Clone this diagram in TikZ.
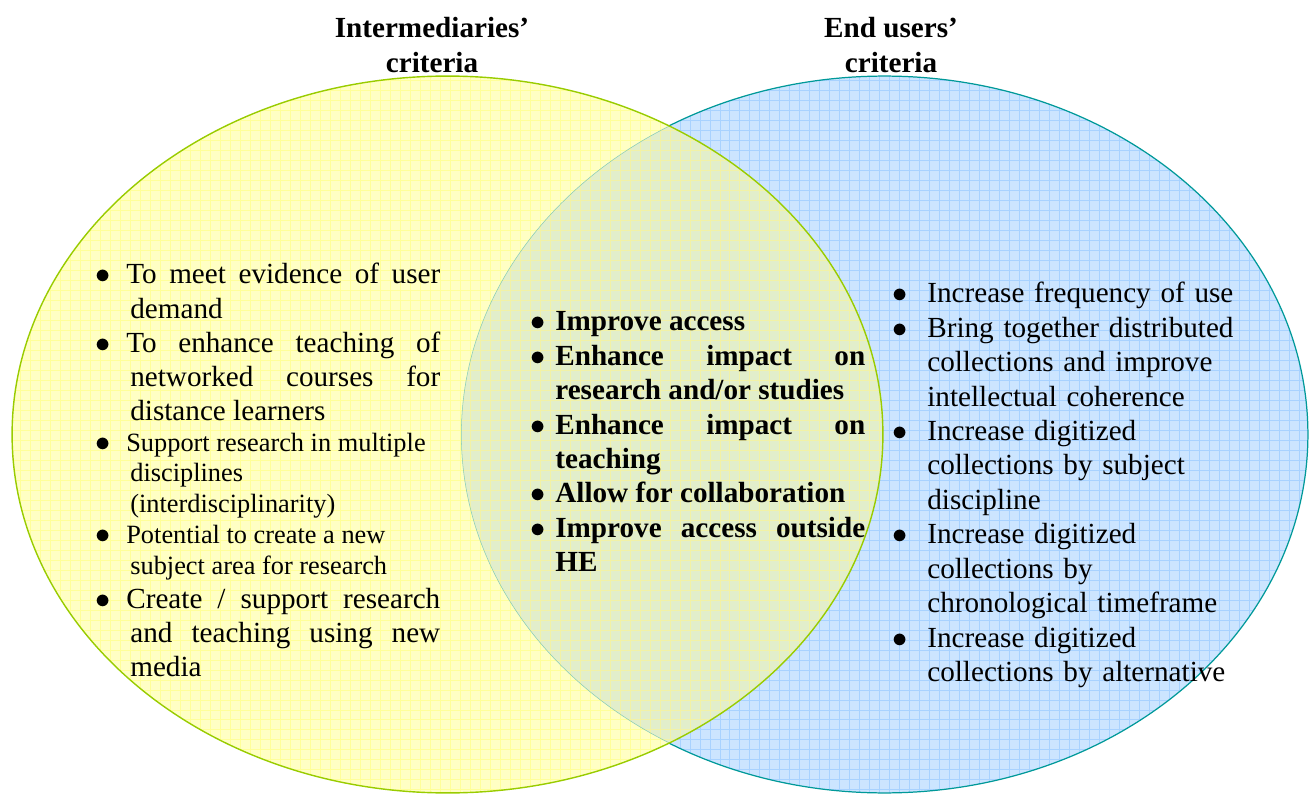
\documentclass[tikz,border=0pt]{standalone}
\usepackage{fontspec}
\setmainfont{Liberation Serif}
\usepackage{tikz}

\definecolor{leftfill}{HTML}{FFFFC4}
\definecolor{leftgrid}{HTML}{FFFF99}
\definecolor{leftline}{HTML}{99CC00}
\definecolor{rightfill}{HTML}{CCE5FF}
\definecolor{rightgrid}{HTML}{A8D2FF}
\definecolor{rightline}{HTML}{009999}
\definecolor{bothfill}{HTML}{E2EECB}
\definecolor{bothgrid}{HTML}{F2F2A6}

% bullet list: left margin, first line shift, gap between items
\newenvironment{critlist}[3]{%
  \tolerance=9999\hyphenpenalty=10000%
  \begin{list}{$\bullet$}{%
    \setlength{\leftmargin}{#1}%
    \setlength{\itemindent}{#2}%
    \setlength{\labelsep}{0pt}%
    \setlength{\labelwidth}{\dimexpr#1+#2\relax}%
    \setlength{\topsep}{0pt}\setlength{\partopsep}{0pt}%
    \setlength{\parsep}{0pt}\setlength{\itemsep}{#3}%
    \renewcommand{\makelabel}[1]{##1\hfil}}}%
  {\end{list}}

\begin{document}
\begin{tikzpicture}[x=0.02cm,y=-0.02cm,
  crit/.style={anchor=north west,inner sep=0pt,font=\fontsize{16.6}{19.4}\selectfont},
  head/.style={anchor=north,inner sep=0pt,align=center,font=\fontsize{16.6}{19.9}\selectfont\bfseries}]

\newcommand{\lrx}{8.71cm}
\newcommand{\rrx}{8.47cm}
\newcommand{\ry}{7.17cm}

	\useasboundingbox (0,0) rectangle (1316,794);
	\coordinate (lc) at (447.5,434.5);
	\coordinate (rc) at (884.5,434.5);

	% end users' set
	\fill[rightfill] (rc) ellipse [x radius=\rrx, y radius=\ry];
	\begin{scope}
	\clip (rc) ellipse [x radius=\rrx, y radius=\ry];
	\draw[rightgrid, line width=0.4pt, step=0.2cm] (0,794) grid (1316,0);
	\end{scope}

	% intermediaries' set
	\fill[leftfill] (lc) ellipse [x radius=\lrx, y radius=\ry];
	\begin{scope}
	\clip (lc) ellipse [x radius=\lrx, y radius=\ry];
	\draw[leftgrid, line width=0.4pt, step=0.2cm] (0,794) grid (1316,0);
	\end{scope}

	% overlap
	\begin{scope}
	\clip (lc) ellipse [x radius=\lrx, y radius=\ry];
	\fill[bothfill] (rc) ellipse [x radius=\rrx, y radius=\ry];
	\clip (rc) ellipse [x radius=\rrx, y radius=\ry];
	\draw[bothgrid, line width=0.4pt, step=0.2cm] (0,794) grid (1316,0);
	\draw[rightline, opacity=0.4, line width=0.6pt] (rc) ellipse [x radius=\rrx, y radius=\ry];
	\end{scope}

	\begin{scope}[even odd rule]
	\clip (-10,-10) rectangle (1330,810) (lc) ellipse [x radius=\lrx, y radius=\ry];
	\draw[rightline, line width=0.7pt] (rc) ellipse [x radius=\rrx, y radius=\ry];
	\end{scope}
	\draw[leftline, line width=0.8pt] (lc) ellipse [x radius=\lrx, y radius=\ry];

	% headings
	\node[head] (lhead) at (432,16.5) {Intermediaries'\\criteria};
	\node[head] (rhead) at (891,16.5) {End users'\\criteria};

	% lists
	\node[crit, text width=6.9cm, align=justify] (lset) at (95,249.5) {%
	\begin{critlist}{0.7cm}{-0.08cm}{0pt}
	\item To meet evidence of user\linebreak demand
	\item To enhance teaching of\linebreak networked courses for\linebreak distance learners
	\item{\fontsize{15}{17.5}\selectfont Support research in multiple\newline disciplines\newline (interdisciplinarity)\par}
	\item{\fontsize{15}{17.5}\selectfont Potential to create a new\newline subject area for research\par}
	\item Create / support research\linebreak and teaching using new\linebreak media
	\end{critlist}};

	\node[crit, text width=6.7cm, align=justify, font=\fontsize{16.6}{19.6}\selectfont\bfseries] (both) at (530,296) {%
	\begin{critlist}{0.5cm}{0pt}{0pt}
	\item Improve access
	\item Enhance impact on\linebreak research and/or studies
	\item Enhance impact on\linebreak teaching
	\item Allow for collaboration
	\item Improve access outside\linebreak HE
	\end{critlist}};

	\node[crit, text width=8cm, align=left, font=\fontsize{16.6}{19.6}\selectfont] (rset) at (892,268) {%
	\begin{critlist}{0.7cm}{0pt}{0pt}
	\item Increase frequency of use
	\item Bring together distributed\newline collections and improve\newline intellectual coherence
	\item Increase digitized\newline collections by subject\newline discipline
	\item Increase digitized\newline collections by\newline chronological timeframe
	\item Increase digitized\newline collections by alternative
	\end{critlist}};
\end{tikzpicture}
\end{document}
